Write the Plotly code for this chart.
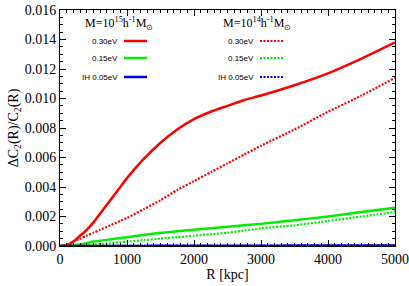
import plotly.graph_objects as go

R = [0, 100, 200, 300, 400, 500, 600, 750, 900, 1000, 1250, 1500, 1750, 2000, 2250, 2500, 2750, 3000, 3500, 4000, 4500, 5000]
red_solid = [0, 0.00004, 0.0003, 0.0007, 0.0011, 0.0016, 0.0022, 0.0031, 0.0040, 0.0046, 0.0059, 0.0070, 0.0079, 0.0086, 0.0091, 0.0095, 0.0099, 0.0102, 0.0109, 0.0117, 0.0127, 0.0138]
red_dot = [0, 0.00008, 0.0003, 0.0005, 0.0007, 0.0009, 0.0011, 0.0014, 0.0017, 0.0019, 0.0025, 0.0031, 0.0038, 0.0044, 0.0050, 0.0056, 0.0062, 0.0068, 0.0079, 0.0091, 0.0102, 0.0114]
green_solid = [0, 0.00001, 0.00005, 0.0001, 0.0002, 0.0003, 0.00035, 0.00045, 0.00055, 0.0006, 0.00075, 0.0009, 0.001, 0.0011, 0.0012, 0.0013, 0.0014, 0.0015, 0.00175, 0.0020, 0.0023, 0.0026]
green_dot = [0, 0.0, 0.00001, 0.00003, 0.00006, 0.0001, 0.00013, 0.00018, 0.00025, 0.0003, 0.0004, 0.0005, 0.0006, 0.0007, 0.0008, 0.0009, 0.00105, 0.0012, 0.0014, 0.0017, 0.0020, 0.0023]
blue_solid = [0, 0, 0, 0, 0.000001, 0.000002, 0.000003, 0.000004, 0.000005, 0.000006, 0.000008, 0.00001, 0.000012, 0.000014, 0.000016, 0.000018, 0.00002, 0.000022, 0.000026, 0.00003, 0.000035, 0.00004]
blue_dot = [0, 0, 0, 0, 0, 0.000001, 0.000001, 0.000002, 0.000002, 0.000003, 0.000004, 0.000005, 0.000006, 0.000007, 0.000008, 0.000009, 0.00001, 0.000011, 0.000013, 0.000015, 0.000017, 0.00002]

DOT = "2px,1.5px"

series = [
    (green_dot, "#00ee00", DOT),
    (green_solid, "#00ee00", "solid"),
    (red_dot, "#ff0000", DOT),
    (red_solid, "#ff0000", "solid"),
    (blue_dot, "#0000dd", DOT),
    (blue_solid, "#0000dd", "solid"),
]

fig = go.Figure()
for ys, c, d in series:
    fig.add_trace(go.Scatter(x=R, y=ys, mode="lines",
                             line=dict(color=c, width=2.5 if d == "solid" else 2.2, dash=d, shape="spline", smoothing=0.6),
                             showlegend=False, cliponaxis=True))

serif = "Liberation Serif, Times New Roman, serif"
sans = "Liberation Sans, Arial, sans-serif"

W0 = 60
PW, PH = 335, 236

def px(x):
    return (x - W0) / PW

def py(y):
    return (246 - y) / PH

headers = [
    (83, "M=10<sup>15</sup>h<sup>-1</sup>M<sub>⊙</sub>"),
    (221, "M=10<sup>14</sup>h<sup>-1</sup>M<sub>⊙</sub>"),
]
for x0, t in headers:
    fig.add_annotation(x=px(x0), y=py(24), xref="paper", yref="paper", text=t, showarrow=False,
                       xanchor="left", yanchor="middle", font=dict(family=serif, size=12, color="black"))

labels = ["0.30eV", "0.15eV", "IH 0.05eV"]
colors = ["#ff0000", "#00ee00", "#0000dd"]
rows = [41, 58, 77]
blocks = [(120, 124, 147, "solid"), (256, 260, 283, DOT)]
for tx, l0, l1, d in blocks:
    for lab, c, yy in zip(labels, colors, rows):
        fig.add_annotation(x=px(tx), y=py(yy), xref="paper", yref="paper", text=lab, showarrow=False,
                           xanchor="right", yanchor="middle", font=dict(family=sans, size=8, color="black"))
        fig.add_shape(type="line", xref="paper", yref="paper", x0=px(l0), x1=px(l1), y0=py(yy), y1=py(yy),
                      line=dict(color=c, width=2.5 if d == "solid" else 2.2, dash=d))

axis_common = dict(showline=True, linecolor="black", linewidth=1, mirror="allticks", ticks="inside",
                   ticklen=6, tickcolor="black", showgrid=False, zeroline=False, automargin=False,
                   tickfont=dict(family=serif, size=14, color="black"))
fig.update_xaxes(range=[0, 5000], dtick=1000, tick0=0,
                 minor=dict(dtick=100, ticks="inside", ticklen=3, tickcolor="black"),
                 title=dict(text="R [kpc]", font=dict(family=serif, size=14, color="black"), standoff=2),
                 **axis_common)
fig.update_yaxes(range=[0, 0.016], dtick=0.002, tick0=0, tickformat=".3f",
                 minor=dict(dtick=0.0005, ticks="inside", ticklen=3, tickcolor="black"),
                 title=dict(text="ΔC<sub>2</sub>(R)/C<sub>2</sub>(R)", font=dict(family=serif, size=14, color="black"), standoff=2),
                 **axis_common)

fig.update_layout(width=409, height=286, margin=dict(l=60, r=14, t=10, b=40, pad=0),
                  plot_bgcolor="white", paper_bgcolor="white")

fig.write_html("out.html", config={"displayModeBar": False},
               post_script="document.body.style.margin='0';document.body.style.overflow='hidden';")
